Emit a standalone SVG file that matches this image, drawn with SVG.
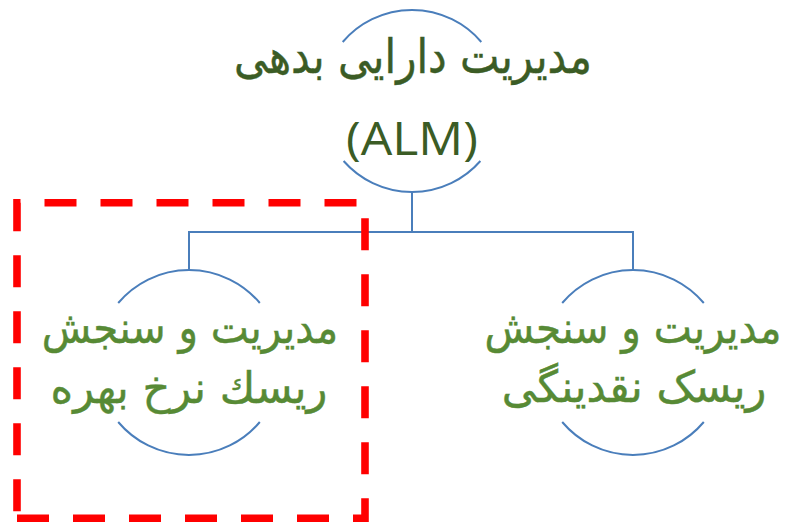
<svg xmlns="http://www.w3.org/2000/svg" width="786" height="523" viewBox="0 0 786 523">
  <style>
    .arc { fill: none; stroke: #4A7EBB; stroke-width: 2; }
    .link { fill: none; stroke: #4A7EBB; stroke-width: 2; }
    .fa { font-family: "DejaVu Sans", sans-serif; direction: rtl; text-anchor: middle; stroke-width: 0.45; }
    .title { fill: #3B5C25; stroke: #3B5C25; }
    .sub { fill: #578A35; stroke: #578A35; }
    .latin { font-family: "Open Sans", "Liberation Sans", sans-serif; text-anchor: middle; fill: #3B5C25; }
    .mark { fill: none; stroke: #FF0000; stroke-width: 7.6; stroke-dasharray: 32 24; stroke-linejoin: miter; }
  </style>
  <rect width="786" height="523" fill="#FFFFFF"/>

  <!-- tree connectors -->
  <g id="connectors">
    <path class="link" d="M412,192 V232"/>
    <path class="link" d="M189,270 V232 H633 V270"/>
  </g>

  <!-- root: asset-liability management -->
  <g id="node-alm">
    <path class="arc" d="M342.7,42 A91,91 0 0 1 481.3,42"/>
    <path class="arc" d="M343.6,161 A91,91 0 0 0 480.4,161"/>
    <text class="fa title" transform="translate(413,73) scale(0.873,1)" font-size="48">مدیریت دارایی بدهی</text>
    <text class="latin" x="412" y="155" font-size="46" textLength="132" lengthAdjust="spacingAndGlyphs">(ALM)</text>
  </g>

  <!-- interest rate risk -->
  <g id="node-interest">
    <path class="arc" d="M118.2,303 A92.5,92.5 0 0 1 259.8,303"/>
    <path class="arc" d="M118.2,422 A92.5,92.5 0 0 0 259.8,422"/>
    <text class="fa sub" transform="translate(190,343) scale(0.919,1)" font-size="44">مدیریت و سنجش</text>
    <text class="fa sub" transform="translate(189,403) scale(0.98,1)" font-size="44">ریسك نرخ بهره</text>
  </g>

  <!-- liquidity risk -->
  <g id="node-liquidity">
    <path class="arc" d="M562.2,303 A92.5,92.5 0 0 1 703.8,303"/>
    <path class="arc" d="M562.2,422 A92.5,92.5 0 0 0 703.8,422"/>
    <text class="fa sub" transform="translate(633,343) scale(0.922,1)" font-size="44">مدیریت و سنجش</text>
    <text class="fa sub" transform="translate(634,402) scale(0.98,1)" font-size="44">ریسک نقدینگی</text>
  </g>

  <!-- dashed highlight frame -->
  <g id="highlight">
    <path class="mark" d="M17,518.3 H365 V202.8 H17 Z"/>
  </g>
</svg>
